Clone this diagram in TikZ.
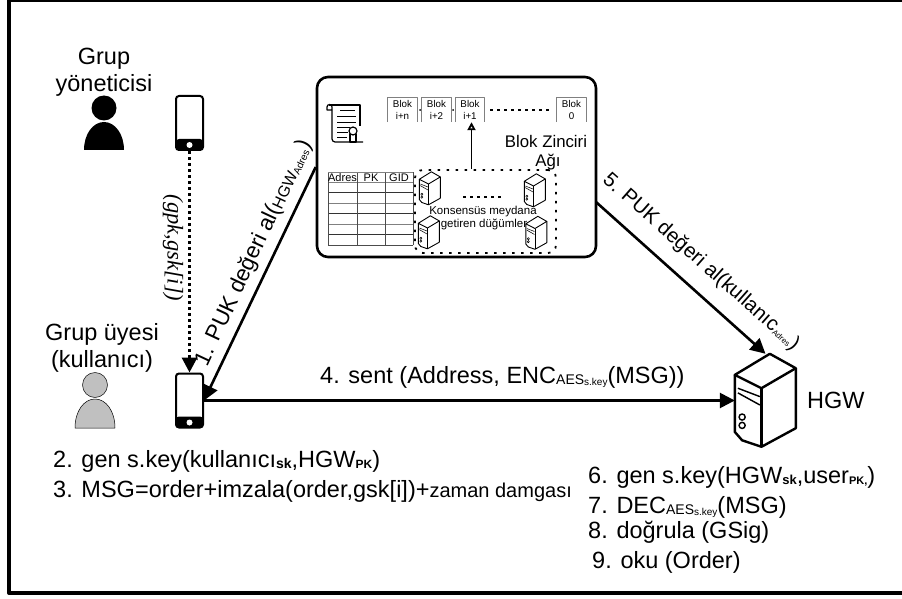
\documentclass[tikz,border=0pt]{standalone}
\usepackage{fontspec}
\setmainfont{Liberation Sans}
\newfontfamily\gfont{Liberation Serif}
\usetikzlibrary{arrows.meta,positioning,calc}
\newcommand{\lowtxt}[2][11]{\raisebox{-1pt}{\fontsize{#1}{#1}\selectfont #2}}
\newcommand{\lowbold}[2][11]{\raisebox{-1pt}{\fontsize{#1}{#1}\selectfont\bfseries #2}}
\newcommand{\srvicon}[4]{%
  \begin{scope}[shift={(#1.north west)},x=#2pt,y=-#3pt,line width=#4pt,line join=round]
    \draw (0,.227) -- (.574,0) -- (1,.155) -- (.437,.37) -- cycle;
    \draw (.437,.37) -- (.437,1);
    \draw (1,.155) -- (1,.8) -- (.437,1) -- (.12,.93) -- (0,.84) -- (0,.227);
    \draw[line width=.6*#4pt] (.05,.37) -- (.41,.46) (.05,.42) -- (.41,.55);
    \draw[line width=.6*#4pt] (.12,.68) circle[x radius=.05,y radius=.033] (.12,.77) circle[x radius=.05,y radius=.033];
  \end{scope}}
\tikzset{
  lbl/.style={inner sep=0pt,font=\fontsize{23.5}{28}\selectfont,align=center},
  stepline/.style={inner sep=0pt,anchor=base west,font=\fontsize{23.5}{28}\selectfont},
  flowarrow/.style={line width=2.6pt,-{Triangle[length=15pt,width=15pt]},shorten >=0pt},
  phonebox/.style={draw,line width=2pt,rounded corners=3pt,minimum width=27pt,minimum height=54pt,inner sep=0pt,
    path picture={\fill (path picture bounding box.south west) rectangle ([yshift=11pt]path picture bounding box.south east);
      \fill[white] ([yshift=5pt]path picture bounding box.south) circle (3pt);}},
  srvsmall/.style={inner sep=0pt,minimum width=21pt,minimum height=33pt},
  srvbig/.style={inner sep=0pt,minimum width=61pt,minimum height=93pt},
  blokbox/.style={inner sep=0pt,minimum width=29pt,minimum height=24pt,align=center,font=\fontsize{9.8}{11.5}\selectfont},
  dotrow/.style={line width=2pt,dash pattern=on 2.5pt off 4.5pt},
}
\begin{document}
\begin{tikzpicture}[x=1pt,y=1pt,line join=round]
\definecolor{usergray}{RGB}{192,192,192}
\useasboundingbox (0,0) rectangle (902,-599);
\draw[line width=4pt] (902,0) -- (9,0) -- (9,-593) -- (902,-593);
% the two people and their phones
\node[lbl] (admin) at (104,-72) {Grup\\[-1pt]y\"oneticisi};
\fill (104,-108) circle (12.5);
\fill (84,-150) .. controls (84,-134) and (93,-122) .. (104,-122) .. controls (115,-122) and (124,-134) .. (124,-150) -- cycle;
\node[lbl] (member) at (102,-348) {Grup üyesi\\[-1pt](kullanıcı)};
\draw[fill=usergray,line width=.5pt] (95,-385) circle (12.5);
\draw[fill=usergray,line width=.5pt] (75,-428) .. controls (75,-411) and (84,-399) .. (95,-399) .. controls (106,-399) and (115,-411) .. (115,-428) -- cycle;
\node[phonebox] (phonea) at (189.5,-123) {};
\node[phonebox] (phoneb) at (189.5,-400.5) {};
% blockchain network box
\node[draw,line width=2.6pt,rounded corners=11pt,minimum width=279pt,minimum height=180pt,inner sep=0pt] (ag) at (456.5,-167) {};
\coordinate (agout) at (596,-202);
% certificate scroll
\draw[line width=1.2pt] (332,-110) -- (332,-139) arc[start angle=180,end angle=270,radius=3] -- (363,-142);
\draw[line width=1.2pt] (329,-105) -- (360,-105) -- (360,-126);
\draw[line width=1.2pt] (332,-110) -- (327,-110) -- (327,-107) arc[start angle=180,end angle=0,radius=2.5] -- (332,-110);
\foreach \ly/\la/\lb in {110/340/355,116/337/356,122/337/356,127/337/350,132/337/348,137/337/347}{
  \draw[line width=.9pt] (\la,-\ly) -- (\lb,-\ly);}
\draw[line width=1.2pt,fill=white] (350,-134) rectangle (356,-142);
\draw[line width=1.2pt,fill=white] (353,-131) circle (4);
% blocks of the chain
\foreach \bname/\bx/\btxt in {blkn/402.5/i+n,blkb/436.5/i+2,blka/470/i+1,blkz/571.5/0}{
  \node[blokbox] (\bname) at (\bx,-110) {Blok\\\btxt};
  \draw[black!50,line width=.8pt] (\bname.south west) |- (\bname.north east) -- (\bname.south east);}
\fill (420,-110) circle (1);
\fill (453,-110) circle (1);
\draw[dotrow] (490,-110) -- (551,-110);
\node[inner sep=0pt,font=\fontsize{16.8}{20}\selectfont,anchor=base] (agname) at (546,-147) {Blok Zinciri};
\node[inner sep=0pt,font=\fontsize{16.8}{20}\selectfont,anchor=base] (agnameb) at (548,-167) {Ağı};
% address table
\foreach \ry/\rc in {182/50,192/80,203/50,213/80,224/50,234/80,245/70}{
  \draw[black!\rc,line width=.9pt] (328,-\ry) -- (413,-\ry);}
\foreach \cx in {328,357,385,413}{\draw[black!70,line width=.8pt] (\cx,-172) -- (\cx,-245);}
\draw[black!50,line width=.8pt] (328,-172) -- (413,-172);
\foreach \tname/\tx/\ttxt in {tadr/342.5/Adres,tpk/371/PK,tgid/399/GID}{
  \node[inner sep=0pt,anchor=base,font=\fontsize{11}{13}\selectfont] (\tname) at (\tx,-181) {\ttxt};}
% consensus cluster
\node[draw,line width=1.8pt,dash pattern=on 2.5pt off 6.5pt,rounded corners=8pt,minimum width=141pt,minimum height=83pt,inner sep=0pt] (cluster) at (485.5,-211.5) {};
\foreach \sname/\sx/\sy in {srva/430/188.5,srvb/535/190.5,srvc/429/232.5,srvd/536.5/233}{
  \node[srvsmall] (\sname) at (\sx,-\sy) {};
  \srvicon{\sname}{21}{33}{.9}}
\draw[dotrow] (463,-197) -- (504,-197);
\node[inner sep=0pt,font=\fontsize{11.5}{13}\selectfont,align=center,anchor=base] (konsa) at (483,-214) {Konsensüs meydana};
\node[inner sep=0pt,font=\fontsize{11.5}{13}\selectfont,align=center,anchor=base] (konsb) at (484,-227) {getiren düğümler};
\draw[line width=1.8pt,-{Triangle[open,length=8pt,width=8pt]}] ([xshift=1.5pt]cluster.north -| blka) -- ([xshift=1.5pt]blka.south);
% gateway
\node[srvbig] (hgw) at (765.5,-400.5) {};
\srvicon{hgw}{61}{93}{2.4}
\node[stepline] (hgwlbl) at (807,-408) {HGW};
% connectors
\draw[line width=3pt,dash pattern=on 3pt off 3pt,-{Triangle[length=15pt,width=15pt]}] (phonea.south) -- (phoneb.north);
\draw[flowarrow] (ag.west) -- (phoneb.east);
\draw[flowarrow] (phoneb.east) -- (hgw.west);
\draw[flowarrow] (agout) -- (hgw.north);
% arrow labels
\node[inner sep=0pt,rotate=-90,font=\fontsize{22.5}{25}\gfont\itshape] (keylbl) at (173,-248) {(gpk,gsk[i])};
\node[inner sep=0pt,rotate=65,font=\fontsize{22.5}{25}\selectfont] (lblone) at (254,-253) {1. PUK değeri al(\lowtxt[16]{HGW\lowtxt[10]{Adres}})};
\node[inner sep=0pt,rotate=-41.5,font=\fontsize{20.5}{25}\selectfont] (lblfive) at (701,-262) {5. PUK değeri al(kullanıc\lowtxt[8]{Adres})};
\node[stepline] (lblfour) at (320,-383) {4. sent (Address, ENC\lowtxt[14]{AES\lowtxt[10]{s.key}}(MSG))};
% steps
\node[stepline] (stepb) at (53,-467) {2. gen s.key(kullanıcı\lowbold[14]{sk},HGW\lowbold[12]{PK})};
\node[stepline] (stepc) at (53,-497) {3. MSG=order+imzala(order,gsk[i])+\fontsize{20}{20}\selectfont zaman damgası};
\node[stepline] (stepf) at (588,-483) {6. gen s.key(HGW\lowbold[13]{sk},user\lowbold[11]{PK,})};
\node[stepline] (stepg) at (588,-513) {7. DEC\lowtxt[14]{AES\lowtxt[10]{s.key}}(MSG)};
\node[stepline] (steph) at (588,-538) {8. doğrula (GSig)};
\node[stepline] (stepi) at (592,-568) {9. oku (Order)};
\end{tikzpicture}
\end{document}
